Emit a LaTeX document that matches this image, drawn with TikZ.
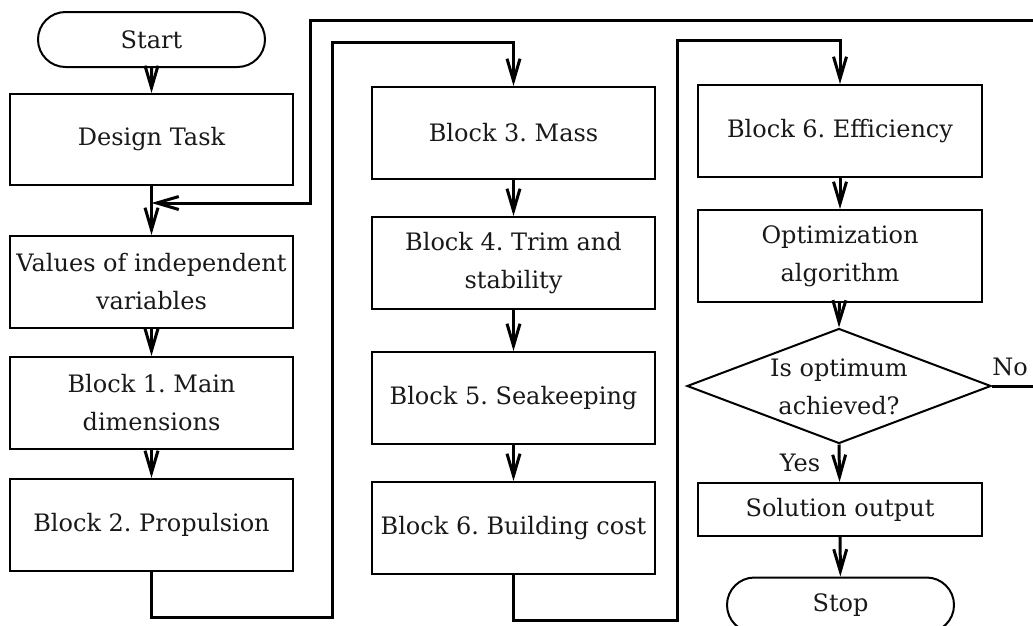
\documentclass[tikz,border=0pt]{standalone}
\usepackage{fontspec}
\setmainfont{DejaVu Serif}
\usetikzlibrary{arrows.meta,shapes.geometric,shapes.misc}
\begin{document}
\frenchspacing
\begin{tikzpicture}[x=1pt,y=-1pt,
  every node/.style={font=\fontsize{24}{38}\selectfont, text=black!90},
  box/.style={draw, line width=2pt, minimum width=283pt, inner sep=0pt, align=center},
  term/.style={draw, line width=2pt, rounded rectangle, minimum width=227pt, minimum height=55pt, inner sep=0pt},
  decision/.style={draw, line width=2pt, diamond, minimum width=304pt, minimum height=115pt, inner sep=0pt},
  arr/.style={line width=3pt, line join=miter, -{Straight Barb[length=22pt,width=13pt,line width=3pt]}},
  lbl/.style={inner sep=0pt}
]
\useasboundingbox (0,0) rectangle (1033,625);
% column 1
\node[term] (start) at (151.5,39.5) {Start};
\node[box, minimum height=91pt] (design) at (151.5,139.5) {Design Task};
\node[box, minimum height=92pt] (values) at (151.5,282) {Values of independent\\variables};
\node[box, minimum height=92pt] (b1) at (151.5,403) {Block 1. Main\\dimensions};
\node[box, minimum height=92pt] (b2) at (151.5,525) {Block 2. Propulsion};
% column 2
\node[box, minimum height=92pt] (b3) at (513.5,133) {Block 3. Mass};
\node[box, minimum height=92pt] (b4) at (513.5,263) {Block 4. Trim and\\stability};
\node[box, minimum height=92pt] (b5) at (513.5,398) {Block 5. Seakeeping};
\node[box, minimum height=92pt] (b6) at (513.5,528) {Block 6. Building cost};
% column 3
\node[box, minimum width=284pt, minimum height=92pt] (eff) at (840,131) {Block 6. Efficiency};
\node[box, minimum width=284pt, minimum height=92pt] (opt) at (840,256) {Optimization\\algorithm};
\node[decision] (dec) at (839,386) {};
\node[align=center, inner sep=0pt] (dectext) at (839,387) {Is optimum\\achieved?};
\node[box, minimum width=284pt, minimum height=53pt] (sol) at (840,509.5) {Solution output};
\node[term] (stop) at (840.5,605) {Stop};
\node[lbl] (yes) at (800,463) {Yes};
\node[lbl] (no) at (1010,367) {No};
% coordinates
\coordinate (fb) at (151.5,203);
\coordinate (c1a) at (151.5,617);
\coordinate (c1b) at (332,617);
\coordinate (c1c) at (332,42);
\coordinate (c1d) at (513.5,42);
\coordinate (c2a) at (513.5,620);
\coordinate (c2b) at (677,620);
\coordinate (c2c) at (677,40);
\coordinate (c2d) at (840,40);
\coordinate (n1) at (1045,386);
\coordinate (n2) at (1045,20.5);
\coordinate (n3) at (310,20.5);
\coordinate (n4) at (310,203);
% connectors
\draw[arr] (start) -- (design);
\draw[arr] (design) -- (values);
\draw[arr] (values) -- (b1);
\draw[arr] (b1) -- (b2);
\draw[arr] (b2.south) -- (c1a) -- (c1b) -- (c1c) -- (c1d) -- (b3.north);
\draw[arr] (b3) -- (b4);
\draw[arr] (b4) -- (b5);
\draw[arr] (b5) -- (b6);
\draw[arr] (b6.south) -- (c2a) -- (c2b) -- (c2c) -- (c2d) -- (eff.north);
\draw[arr] (eff) -- (opt);
\draw[arr] (opt) -- (dec.north);
\draw[arr] (dec.south) -- (sol);
\draw[arr] (sol) -- (stop);
\draw[arr] (dec.east) -- (n1) -- (n2) -- (n3) -- (n4) -- (fb);
\end{tikzpicture}
\end{document}
